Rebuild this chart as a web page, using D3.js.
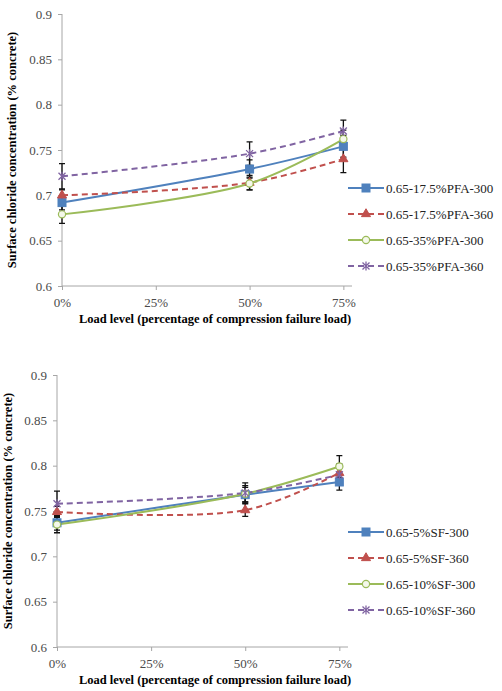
<!DOCTYPE html>
<body>
<svg width="502" height="691"></svg>
<script src="https://d3js.org/d3.v7.min.js"></script>
<script>

// load levels (fraction of compression failure load)
var loadLevels = [0, 0.5, 0.75];
var xTicks = [0, 0.25, 0.5, 0.75];
var yTicks = [0.6, 0.65, 0.7, 0.75, 0.8, 0.85, 0.9];

// top panel: PFA mixes
var pfaNames = ["0.65-17.5%PFA-300", "0.65-17.5%PFA-360", "0.65-35%PFA-300", "0.65-35%PFA-360"];
var pfaValues = [
  [0.692, 0.729, 0.754],
  [0.700, 0.714, 0.740],
  [0.679, 0.713, 0.762],
  [0.721, 0.746, 0.771]
];
var pfaErrors = [
  [0.008, 0.010, 0.012],
  [0.006, 0.008, 0.015],
  [0.010, 0.007, 0.010],
  [0.014, 0.013, 0.012]
];

// bottom panel: SF mixes
var sfNames = ["0.65-5%SF-300", "0.65-5%SF-360", "0.65-10%SF-300", "0.65-10%SF-360"];
var sfValues = [
  [0.737, 0.768, 0.782],
  [0.749, 0.751, 0.792],
  [0.735, 0.769, 0.799],
  [0.758, 0.770, 0.790]
];
var sfErrors = [
  [0.008, 0.008, 0.009],
  [0.006, 0.007, 0.010],
  [0.009, 0.009, 0.012],
  [0.014, 0.011, 0.010]
];

var colors = ["#4F81BD", "#C0504D", "#9BBB59", "#8064A2"];
var dashes = [null, "6,4", null, "6,4"];
var markers = ["square", "triangle", "circle", "star"];
var serif = "Liberation Serif";

// pin the chart to the page corner
var svg = d3.select("svg")
  .style("position", "absolute").style("left", "0px").style("top", "0px");

function drawMarker(sel, type, color) {
  if (type == "square") {
    sel.append("rect").attr("x", -4).attr("y", -4).attr("width", 8).attr("height", 8)
      .attr("fill", color).attr("stroke", color);
  } else if (type == "triangle") {
    sel.append("path").attr("d", d3.symbol(d3.symbolTriangle, 36)())
      .attr("fill", color).attr("stroke", color);
  } else if (type == "circle") {
    sel.append("circle").attr("r", 3.6).attr("fill", "#f4f8ea")
      .attr("stroke", color).attr("stroke-width", 1.2);
  } else {
    sel.append("path").attr("d", "M-3.5,-3.5L3.5,3.5M-3.5,3.5L3.5,-3.5M0,-4.5L0,4.5")
      .attr("stroke", color).attr("stroke-width", 1.3).attr("fill", "none");
  }
}

function drawPanel(box, names, values, errors) {
  var x = d3.scaleLinear().domain([0, 0.773]).range([box.left, box.right]);
  var y = d3.scaleLinear().domain([0.6, 0.9]).range([box.bottom, box.top]);
  var g = svg.append("g");

  // axes
  var yAxis = g.append("g")
    .attr("transform", "translate(" + box.left + ",0)")
    .call(d3.axisLeft(y).tickValues(yTicks).tickSize(4).tickPadding(6)
      .tickFormat(function(d) { return d3.format("")(+d.toFixed(2)); }));
  var xAxis = g.append("g")
    .attr("transform", "translate(0," + box.bottom + ")")
    .call(d3.axisBottom(x).tickValues(xTicks).tickSize(4).tickPadding(8)
      .tickFormat(d3.format(".0%")));
  g.selectAll(".domain").attr("stroke", "#a6a6a6");
  g.selectAll(".tick line").attr("stroke", "#a6a6a6");
  g.selectAll(".tick text").attr("fill", "#4a4a4a")
    .attr("font-family", serif).attr("font-size", 13);
  yAxis.select(".domain").attr("d", "M" + 0 + "," + box.top + "V" + box.bottom);
  xAxis.select(".domain").attr("d", "M" + box.left + ",0H" + box.right);

  // series lines
  var line = d3.line()
    .x(function(d, i) { return x(loadLevels[i]); })
    .y(function(d) { return y(d); })
    .curve(d3.curveCatmullRom.alpha(0.5));

  values.forEach(function(vals, s) {
    g.append("path").attr("d", line(vals))
      .attr("fill", "none").attr("stroke", colors[s]).attr("stroke-width", 2)
      .attr("stroke-dasharray", dashes[s]);
  });

  // error bars
  values.forEach(function(vals, s) {
    vals.forEach(function(v, i) {
      var cx = x(loadLevels[i]);
      var y1 = y(v + errors[s][i]), y2 = y(v - errors[s][i]);
      g.append("path")
        .attr("d", "M" + cx + "," + y1 + "V" + y2 + "M" + (cx - 3) + "," + y1 + "H" + (cx + 3) +
          "M" + (cx - 3) + "," + y2 + "H" + (cx + 3))
        .attr("stroke", "#111").attr("stroke-width", 1.3).attr("fill", "none");
    });
  });

  // markers
  values.forEach(function(vals, s) {
    vals.forEach(function(v, i) {
      var m = g.append("g").attr("transform", "translate(" + x(loadLevels[i]) + "," + y(v) + ")");
      drawMarker(m, markers[s], colors[s]);
    });
  });

  // axis titles
  g.append("text")
    .attr("transform", "translate(" + box.ytitleX + "," + ((box.top + box.bottom) / 2) + ") rotate(-90)")
    .attr("text-anchor", "middle")
    .attr("font-family", serif).attr("font-size", 12.5).attr("font-weight", "bold")
    .text("Surface chloride concentration (% concrete)");
  g.append("text")
    .attr("x", 215).attr("y", box.bottom + 37)
    .attr("text-anchor", "middle")
    .attr("font-family", serif).attr("font-size", 12.5).attr("font-weight", "bold")
    .text("Load level (percentage of compression failure load)");

  // legend
  var legend = g.selectAll(".legend").data(names).enter().append("g")
    .attr("transform", function(d, i) { return "translate(348," + (box.legendY + i * 26) + ")"; });
  legend.append("line").attr("x1", 0).attr("x2", 36)
    .attr("stroke", function(d, i) { return colors[i]; }).attr("stroke-width", 2)
    .attr("stroke-dasharray", function(d, i) { return dashes[i]; });
  legend.each(function(d, i) {
    var m = d3.select(this).append("g").attr("transform", "translate(18,0)");
    drawMarker(m, markers[i], colors[i]);
  });
  legend.append("text").attr("x", 38).attr("dy", "0.35em")
    .attr("font-family", serif).attr("font-size", 13).attr("fill", "#222")
    .text(function(d) { return d; });
}

drawPanel({left: 62, right: 352, top: 14, bottom: 286, ytitleX: 16, legendY: 188}, pfaNames, pfaValues, pfaErrors);
drawPanel({left: 57, right: 348, top: 375, bottom: 647, ytitleX: 12, legendY: 532}, sfNames, sfValues, sfErrors);

</script>
</body>
